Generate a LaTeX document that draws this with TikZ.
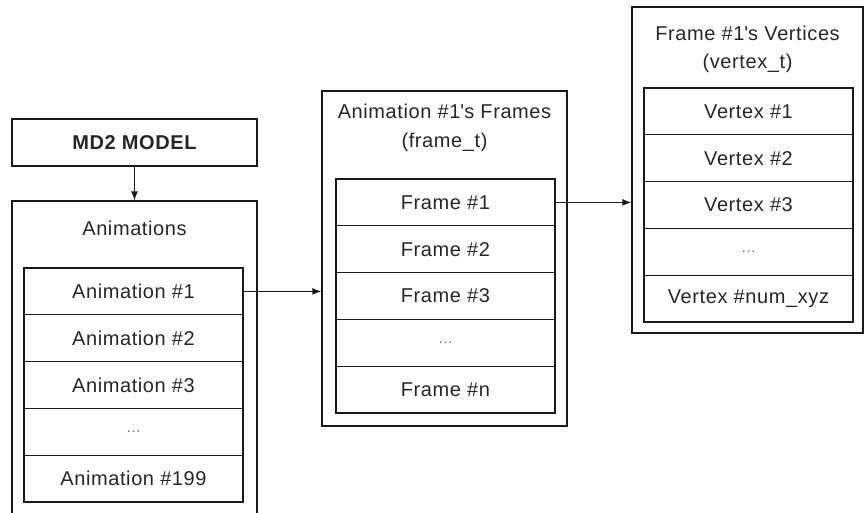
\documentclass[tikz,border=0pt]{standalone}
\usepackage{fontspec}
\setmainfont{Liberation Sans}[LetterSpace=3]
\usepackage{tikz}
\usetikzlibrary{arrows.meta}

\begin{document}
\begin{tikzpicture}[x=1pt, y=-1pt, every node/.style={font=\fontsize{20}{28.5}\selectfont, text=black!85},
  outerbox/.style={draw=black!90, line width=1.3pt, inner sep=0pt},
  cell/.style={draw=black!90, line width=1.3pt, inner sep=0pt, minimum height=46.8pt},
  dots/.style={font=\fontsize{15}{18}\selectfont, text=black!55},
  link/.style={-{Latex[length=9pt,width=7pt]}, draw=black!90, line width=1.3pt}]
  \useasboundingbox (0,0) rectangle (866,512);
  \clip (0,0) rectangle (866,512);
  % model and animation list
  \node[outerbox, minimum width=245pt, minimum height=47pt] (md2) at (134.5,142.5) {\bfseries MD2 MODEL};
  \node[outerbox, minimum width=245pt, minimum height=329pt] (animbox) at (134.5,365.5) {};
  \node (animtitle) at (134.5,228) {Animations};
  \node[cell, minimum width=219pt] (anim1) at (133.5,291.4) {Animation \#1};
  \node[cell, minimum width=219pt] (anim2) at (133.5,338.2) {Animation \#2};
  \node[cell, minimum width=219pt] (anim3) at (133.5,385.0) {Animation \#3};
  \node[cell, minimum width=219pt, dots] (anim4) at (133.5,431.8) {…};
  \node[cell, minimum width=219pt] (anim5) at (133.5,478.6) {Animation \#199};
  % frames of animation 1
  \node[outerbox, minimum width=245pt, minimum height=335pt] (framebox) at (444.5,258.5) {};
  \node[align=center] (frametitle) at (444.5,128) {Animation \#1\textquotesingle s Frames\\(frame\_t)};
  \node[cell, minimum width=219pt] (frame1) at (445.5,202.4) {Frame \#1};
  \node[cell, minimum width=219pt] (frame2) at (445.5,249.2) {Frame \#2};
  \node[cell, minimum width=219pt] (frame3) at (445.5,296.0) {Frame \#3};
  \node[cell, minimum width=219pt, dots] (frame4) at (445.5,342.8) {…};
  \node[cell, minimum width=219pt] (frame5) at (445.5,389.6) {Frame \#n};
  % vertices of frame 1
  \node[outerbox, minimum width=231pt, minimum height=326pt] (vertbox) at (747.5,170) {};
  \node[align=center] (verttitle) at (747.5,49.5) {Frame \#1\textquotesingle s Vertices\\(vertex\_t)};
  \node[cell, minimum width=209pt] (vert1) at (748.5,111.4) {Vertex \#1};
  \node[cell, minimum width=209pt] (vert2) at (748.5,158.2) {Vertex \#2};
  \node[cell, minimum width=209pt] (vert3) at (748.5,205.0) {Vertex \#3};
  \node[cell, minimum width=209pt, dots] (vert4) at (748.5,251.8) {…};
  \node[cell, minimum width=209pt] (vert5) at (748.5,298.6) {Vertex \#num\_xyz};
  % links
  \draw[link] (md2) -- (animbox);
  \draw[link] (anim1.east) -- (anim1.east -| framebox.west);
  \draw[link] (frame1.east) -- (frame1.east -| vertbox.west);
\end{tikzpicture}
\end{document}
